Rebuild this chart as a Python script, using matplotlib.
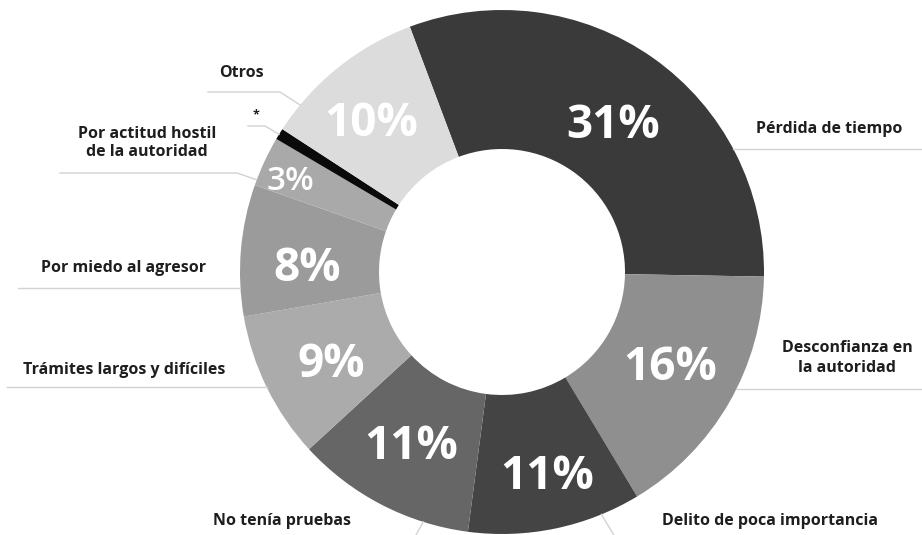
import numpy as np
import matplotlib
matplotlib.use("Agg")
import matplotlib.pyplot as plt

# Data (clockwise from the top-left boundary)
categories = ["Pérdida de tiempo", "Desconfianza en\nla autoridad", "Delito de poca importancia",
              "No tenía pruebas", "Trámites largos y difíciles", "Por miedo al agresor",
              "Por actitud hostil\nde la autoridad", "*", "Otros"]
values = [31.0, 16.1, 10.7, 11.1, 9.1, 8.1, 3.1, 0.7, 10.1]
pct_labels = ["31%", "16%", "11%", "11%", "9%", "8%", "3%", "", "10%"]
colors = ["#3a3a3a", "#8f8f8f", "#444444", "#666666", "#ababab", "#9b9b9b", "#a9a9a9", "#0a0a0a", "#dcdcdc"]

W, H = 922, 535
fig = plt.figure(figsize=(W / 100, H / 100), dpi=100)
ax = fig.add_axes([0, 0, 1, 1])

cx, cy = 502, H - 272
R = 262
r_in = 123
start = 110.6

wedges, _ = ax.pie(values, colors=colors, startangle=start, counterclock=False,
                   center=(cx, cy), radius=R, wedgeprops=dict(width=R - r_in, linewidth=0))
ax.set_xlim(0, W)
ax.set_ylim(0, H)
ax.set_aspect("equal")
ax.axis("off")

FONT = "Open Sans"

# percentage labels: (radius, angle offset from wedge middle, font size, weight)
pct_layout = [(187, -1.3, 33, "bold"), (192, 1.4, 33, "bold"), (206, 0.9, 33, "bold"),
              (193, -0.7, 33, "bold"), (192, 1.1, 33, "bold"), (195, 2.5, 33, "bold"),
              (232, 1.0, 24, "semibold"), None, (201, 1.8, 33, "bold")]
for w, lab, lay in zip(wedges, pct_labels, pct_layout):
    if not lab:
        continue
    rr, off, fs, fw = lay
    mid = np.deg2rad((w.theta1 + w.theta2) / 2 + off)
    x = cx + rr * np.cos(mid)
    y = cy + rr * np.sin(mid) - 0.36 * fs * 100 / 72
    ax.text(x, y, lab, ha="center", va="baseline",
            color="white", fontsize=fs, fontweight=fw, family=FONT)

def circ_pt(angle_deg, r=R):
    a = np.deg2rad(angle_deg)
    return cx + r * np.cos(a), cy + r * np.sin(a)

def side_x(y_img, side):
    dy = (H - y_img) - cy
    dx = np.sqrt(R ** 2 - dy ** 2)
    return cx + side * dx

line_col = "#d2d2d2"
lab_col = "#1e1e1e"
lfs = 11.5
LW = "bold"

# right side labels
for text, tx, ty, ly in [(categories[0], 829, 129, 149), (categories[1], 847, 358, 389)]:
    ax.text(tx, H - ty, text, ha="center", va="center", fontsize=lfs, fontweight=LW,
            color=lab_col, family=FONT, linespacing=1.25)
    ax.plot([side_x(ly, 1), W], [H - ly, H - ly], color=line_col, lw=1)

# left side labels with straight underline
for text, tx, ty, ly, x0 in [(categories[4], 124, 370, 387, 7), (categories[5], 124, 268, 288, 18)]:
    ax.text(tx, H - ty, text, ha="center", va="center", fontsize=lfs, fontweight=LW,
            color=lab_col, family=FONT)
    ax.plot([x0, side_x(ly, -1)], [H - ly, H - ly], color=line_col, lw=1)

# left labels with bent leaders
bent = [(categories[6], 147, 143, 173, 60, 237, 159.4),
        (categories[7], 256, 115, 126, 248, 265, 148.3),
        (categories[8], 241, 73, 92, 208, 280, 140.4)]
for text, tx, ty, ly, x0, x1, ang in bent:
    ax.text(tx, H - ty, text, ha="center", va="center", fontsize=lfs if text != "*" else 9,
            fontweight=LW, color=lab_col, family=FONT, linespacing=1.25)
    ex, ey = circ_pt(ang)
    ax.plot([x0, x1, ex], [H - ly, H - ly, ey], color=line_col, lw=1)

# bottom labels
ax.text(282, H - 521, categories[3], ha="center", va="center", fontsize=lfs,
        fontweight=LW, color=lab_col, family=FONT)
ax.text(770, H - 521, categories[2], ha="center", va="center", fontsize=lfs,
        fontweight=LW, color=lab_col, family=FONT)
for ang, xe in [(-107.5, 415), (-67.7, 615)]:
    ex, ey = circ_pt(ang)
    ax.plot([ex, xe], [ey, -2], color=line_col, lw=1)

fig.savefig("out.png", dpi=100)
